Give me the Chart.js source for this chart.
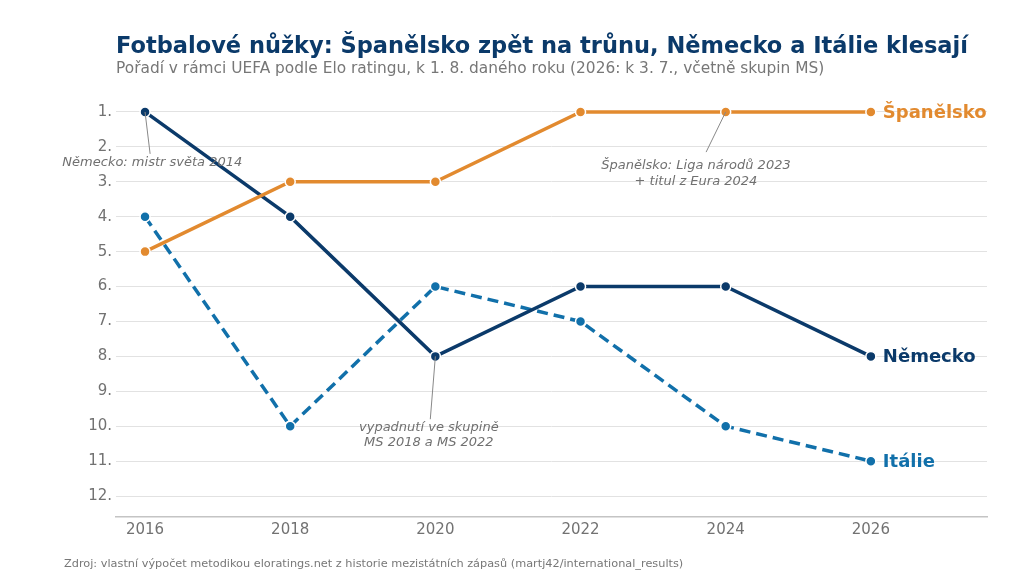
<!DOCTYPE html>
<html lang="cs">
<head>
<meta charset="utf-8">
<script src="https://cdn.jsdelivr.net/npm/chart.js@4/dist/chart.umd.min.js"></script>
<style>
  html, body { margin: 0; padding: 0; background: #fff; }
  #wrap { width: 1024px; height: 576px; position: relative; }
</style>
</head>
<body>
<div id="wrap"><canvas id="chart" width="1024" height="576"></canvas></div>
<script>
// ─── data ────────────────────────────────────────────────────────────────
const YEARS   = [2016, 2018, 2020, 2022, 2024, 2026];
const RANKS   = [1, 2, 3, 4, 5, 6, 7, 8, 9, 10, 11, 12];
const SPAIN   = [5, 3, 3, 1, 1, 1];
const GERMANY = [1, 4, 8, 6, 6, 8];
const ITALY   = [4, 10, 6, 7, 10, 11];

const TITLE    = 'Fotbalové nůžky: Španělsko zpět na trůnu, Německo a Itálie klesají';
const SUBTITLE = 'Pořadí v rámci UEFA podle Elo ratingu, k 1. 8. daného roku (2026: k 3. 7., včetně skupin MS)';
const SOURCE   = 'Zdroj: vlastní výpočet metodikou eloratings.net z historie mezistátních zápasů (martj42/international_results)';

// annotations: point they refer to, where the text sits, where the leader ends (data units)
const NOTES = [
  { px: 2016, py: 1, tx: 2016.1,  ty: 2.46, lx: 2016.07, ly: 2.2,  lines: ['Německo: mistr světa 2014'] },
  { px: 2024, py: 1, tx: 2023.59, ty: 2.54, lx: 2023.73, ly: 2.15, lines: ['Španělsko: Liga národů 2023', '+ titul z Eura 2024'] },
  { px: 2020, py: 8, tx: 2019.91, ty: 10.03, lx: 2019.93, ly: 9.8, lines: ['vypadnutí ve skupině', 'MS 2018 a MS 2022'] },
];

const CC = {
  navy:   '#0b3a6a',
  orange: '#e28a2f',
  blue:   '#1170aa',
  muted:  '#727272',
  grid:   '#e2e2e2',
  axis:   '#c4c4c4',
  note:   '#707070',
};
const FONT = "'DejaVu Sans', sans-serif";

function lineDS(label, data, color, dash) {
  return {
    label,
    data: YEARS.map((y, i) => ({ x: y, y: data[i] })),
    borderColor: color,
    backgroundColor: color,
    borderWidth: 3.5,
    borderDash: dash || [],
    pointRadius: 5,
    pointBorderColor: '#fff',
    pointBorderWidth: 1.5,
    pointHoverRadius: 5,
    tension: 0,
  };
}

// ── text pieces drawn on the canvas ─────────────────────────────────────
const textPlugin = {
  id: 'texts',
  afterDraw(chart) {
    const { ctx, scales: { x, y } } = chart;
    ctx.save();
    ctx.textBaseline = 'alphabetic';
    ctx.textAlign = 'left';
    ctx.fillStyle = CC.navy;
    ctx.font = `bold 22.5px ${FONT}`;
    ctx.fillText(TITLE, 116, 53);
    ctx.fillStyle = '#777';
    ctx.font = `15.4px ${FONT}`;
    ctx.fillText(SUBTITLE, 116, 73);
    ctx.font = `11.3px ${FONT}`;
    ctx.fillStyle = '#777';
    ctx.fillText(SOURCE, 64, 567);

    // end-of-line labels
    ctx.font = `bold 18px ${FONT}`;
    ctx.textBaseline = 'middle';
    chart.data.datasets.forEach(ds => {
      const last = ds.data[ds.data.length - 1];
      ctx.fillStyle = ds.borderColor;
      ctx.fillText(ds.label, x.getPixelForValue(last.x) + 12, y.getPixelForValue(last.y) + 1);
    });
    ctx.restore();
  },
  afterDatasetsDraw(chart) {
    const { ctx, scales: { x, y } } = chart;
    ctx.save();
    NOTES.forEach(n => {
      ctx.strokeStyle = '#888';
      ctx.lineWidth = 1;
      ctx.beginPath();
      ctx.moveTo(x.getPixelForValue(n.px), y.getPixelForValue(n.py));
      ctx.lineTo(x.getPixelForValue(n.lx), y.getPixelForValue(n.ly));
      ctx.stroke();
      ctx.font = `italic 13px ${FONT}`;
      ctx.fillStyle = CC.note;
      ctx.textAlign = 'center';
      ctx.textBaseline = 'middle';
      n.lines.forEach((t, i) => {
        ctx.fillText(t, x.getPixelForValue(n.tx), y.getPixelForValue(n.ty) + i * 15.5);
      });
    });
    ctx.restore();
  },
};

new Chart(document.getElementById('chart').getContext('2d'), {
  type: 'line',
  data: {
    datasets: [
      lineDS('Španělsko', SPAIN, CC.orange),
      lineDS('Německo', GERMANY, CC.navy),
      lineDS('Itálie', ITALY, CC.blue, [11, 6]),
    ],
  },
  options: {
    responsive: false,
    animation: false,
    layout: { padding: { left: 0, top: 91, right: 37, bottom: 0 } },
    plugins: {
      legend: { display: false },
      tooltip: { enabled: false },
    },
    scales: {
      x: {
        type: 'linear',
        min: 2015.6,
        max: 2027.6,
        afterBuildTicks: axis => { axis.ticks = YEARS.map(v => ({ value: v })); },
        afterFit: axis => { axis.height = 59; },
        grid: { display: false, drawTicks: false },
        border: { display: true, color: CC.axis, width: 1.5 },
        ticks: {
          padding: 4,
          color: CC.muted,
          font: { family: FONT, size: 15 },
          callback: v => String(v),
        },
      },
      y: {
        type: 'linear',
        reverse: true,
        min: 0.4,
        max: 12.6,
        afterBuildTicks: axis => { axis.ticks = RANKS.map(v => ({ value: v })); },
        afterFit: axis => { axis.width = 116; },
        grid: { color: CC.grid, lineWidth: 1, drawTicks: false },
        border: { display: false },
        ticks: {
          padding: 4,
          color: CC.muted,
          font: { family: FONT, size: 15 },
          callback: v => v + '.',
        },
      },
    },
  },
  plugins: [textPlugin],
});
</script>
</body>
</html>
